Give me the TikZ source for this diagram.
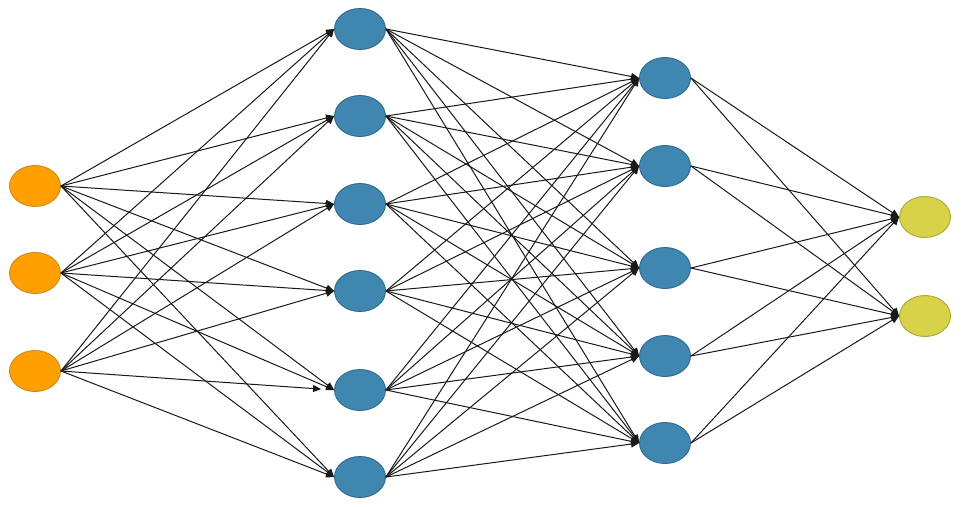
\documentclass[tikz,border=0pt]{standalone}
\usetikzlibrary{arrows.meta,shapes.geometric}

\definecolor{inorange}{HTML}{FF9F00}
\definecolor{inedge}{HTML}{C98A1E}
\definecolor{hidblue}{HTML}{3F86B1}
\definecolor{hidedge}{HTML}{2F6A8E}
\definecolor{outyellow}{HTML}{D7D247}
\definecolor{outedge}{HTML}{ABA73E}

\begin{document}
\begin{tikzpicture}[
    x=1pt, y=-1pt,
    neuron/.style={ellipse, minimum width=51pt, minimum height=41pt, inner sep=0pt, line width=0.9pt},
    inp/.style={neuron, fill=inorange, draw=inedge},
    hid/.style={neuron, fill=hidblue, draw=hidedge},
    outp/.style={neuron, fill=outyellow, draw=outedge},
    arr/.style={-{Triangle[length=8pt, width=7pt]}, line width=1pt, black!90}
]
\useasboundingbox (0,0) rectangle (965,506);

% input layer
\node[inp] (in1) at (35,186) {};
\node[inp] (in2) at (35,273) {};
\node[inp] (in3) at (35,371) {};

% first hidden layer
\node[hid] (hA1) at (360,29) {};
\node[hid] (hA2) at (360,116) {};
\node[hid] (hA3) at (360,204) {};
\node[hid] (hA4) at (360,291) {};
\node[hid] (hA5) at (360,390) {};
\node[hid] (hA6) at (360,477) {};

% second hidden layer
\node[hid] (hB1) at (665,78) {};
\node[hid] (hB2) at (665,166) {};
\node[hid] (hB3) at (665,268) {};
\node[hid] (hB4) at (665,356) {};
\node[hid] (hB5) at (665,443) {};

% output layer
\node[outp] (out1) at (925,217) {};
\node[outp] (out2) at (925,316) {};

% connections
\foreach \s in {in1,in2}
  \foreach \t in {hA1,hA2,hA3,hA4,hA5,hA6}
    \draw[arr] (\s.east) -- (\t.west);
\foreach \t in {hA1,hA2,hA3,hA4,hA6}
  \draw[arr] (in3.east) -- (\t.west);
\draw[arr, shorten >=13pt] (in3.east) -- (hA5.west);

\foreach \s in {hA1,hA2,hA3,hA4,hA5,hA6}
  \foreach \t in {hB1,hB2,hB3,hB4,hB5}
    \draw[arr] (\s.east) -- (\t.west);

\foreach \s in {hB1,hB2,hB3,hB4,hB5}
  \foreach \t in {out1,out2}
    \draw[arr] (\s.east) -- (\t.west);
\end{tikzpicture}
\end{document}
